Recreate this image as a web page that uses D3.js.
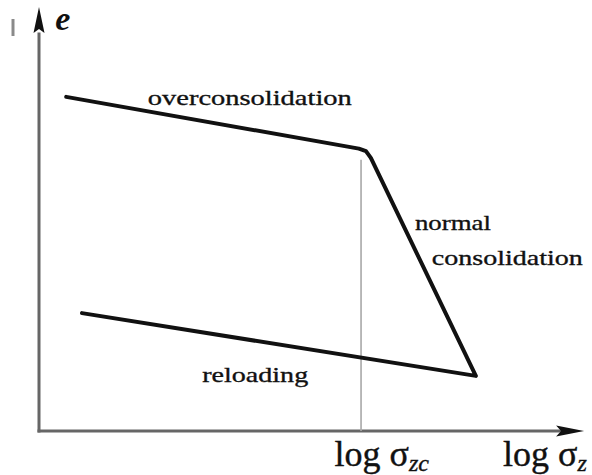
<!DOCTYPE html>
<html>
<head>
<meta charset="utf-8">
<script src="https://cdn.jsdelivr.net/npm/d3@7"></script>
<style>
  html, body { margin: 0; padding: 0; background: #fff; }
  svg { display: block; }
  text { font-family: "Liberation Serif", "Times New Roman", serif; fill: #111; }
</style>
</head>
<body>
<svg id="chart" width="592" height="475"></svg>
<script>
// Void ratio e vs. log of vertical stress: compression/reloading path
const logSigma  = [0.50, 5.88, 6.01, 6.10, 8.03, 0.79];
const voidRatio = [0.788, 0.666, 0.660, 0.644, 0.130, 0.278];
const preconsolidationLog = 5.92;

const segmentLabels = [
  { lines: ["overconsolidation"], x: 2.0, e: 0.769, width: 204 },
  { lines: ["normal", "consolidation"], x: 6.91, e: 0.475, width: [76, 151], indent: [0, 0.31] },
  { lines: ["reloading"], x: 3.0, e: 0.116, width: 106 }
];

const svg = d3.select("#chart");
const origin = { x: 39, y: 431 };

const x = d3.scaleLinear().domain([0, 10]).range([origin.x, 583]);
const y = d3.scaleLinear().domain([0, 1]).range([origin.y, 7]);

// Axes
const axisColor = "#666";
svg.append("line")
  .attr("x1", x(0)).attr("y1", y(0) + 1.5)
  .attr("x2", x(0)).attr("y2", y(0.94))
  .attr("stroke", axisColor).attr("stroke-width", 3);
svg.append("line")
  .attr("x1", x(0) - 1.5).attr("y1", y(0))
  .attr("x2", x(9.6)).attr("y2", y(0))
  .attr("stroke", axisColor).attr("stroke-width", 3);

// arrowheads
const ax = x(0), ay = y(1);
svg.append("path")
  .attr("d", `M${ax},${ay} L${ax + 5.5},${ay + 26} L${ax},${ay + 22} L${ax - 5.5},${ay + 26} Z`)
  .attr("fill", "#111");
const bx = x(10.02), by = y(0);
svg.append("path")
  .attr("d", `M${bx},${by} L${bx - 28},${by - 5.5} L${bx - 23},${by} L${bx - 28},${by + 5.5} Z`)
  .attr("fill", "#111");

// preconsolidation stress marker
svg.append("line")
  .attr("x1", x(preconsolidationLog)).attr("y1", y(0))
  .attr("x2", x(preconsolidationLog)).attr("y2", y(0.64))
  .attr("stroke", "#a8a8a8").attr("stroke-width", 1.6);

// e-log sigma path
const pts = logSigma.map((v, i) => [v, voidRatio[i]]);
const line = d3.line().x(d => x(d[0])).y(d => y(d[1])).curve(d3.curveLinear);
svg.append("path")
  .attr("d", line(pts))
  .attr("fill", "none")
  .attr("stroke", "#111")
  .attr("stroke-width", 4)
  .attr("stroke-linejoin", "round")
  .attr("stroke-linecap", "round");

// segment labels
segmentLabels.forEach(lbl => {
  lbl.lines.forEach((txt, i) => {
    const w = Array.isArray(lbl.width) ? lbl.width[i] : lbl.width;
    const ind = lbl.indent ? lbl.indent[i] : 0;
    svg.append("text")
      .attr("x", x(lbl.x + ind))
      .attr("y", y(lbl.e) + i * 35)
      .attr("font-size", 22)
      .attr("stroke", "#111").attr("stroke-width", 0.35)
      .attr("textLength", w)
      .attr("lengthAdjust", "spacingAndGlyphs")
      .text(txt);
  });
});

// axis titles
svg.append("text")
  .attr("x", x(0.3)).attr("y", y(0.945))
  .attr("font-size", 34).attr("font-style", "italic").attr("font-weight", "bold")
  .text("e");

function logLabel(cx, sub, baseline) {
  const t = svg.append("text")
    .attr("x", cx).attr("y", baseline)
    .attr("font-size", 36).attr("text-anchor", "middle")
    .attr("stroke", "#111").attr("stroke-width", 0.4);
  t.append("tspan").text("log σ");
  t.append("tspan").attr("font-size", 24).attr("font-style", "italic").attr("dy", 5).text(sub);
}
logLabel(x(6.3), "zc", 466);
logLabel(x(9.3), "z", 466);

// stray mark at the left edge
svg.append("line")
  .attr("x1", 13).attr("y1", 19).attr("x2", 13).attr("y2", 36)
  .attr("stroke", "#8a8a8a").attr("stroke-width", 3);
</script>
</body>
</html>
